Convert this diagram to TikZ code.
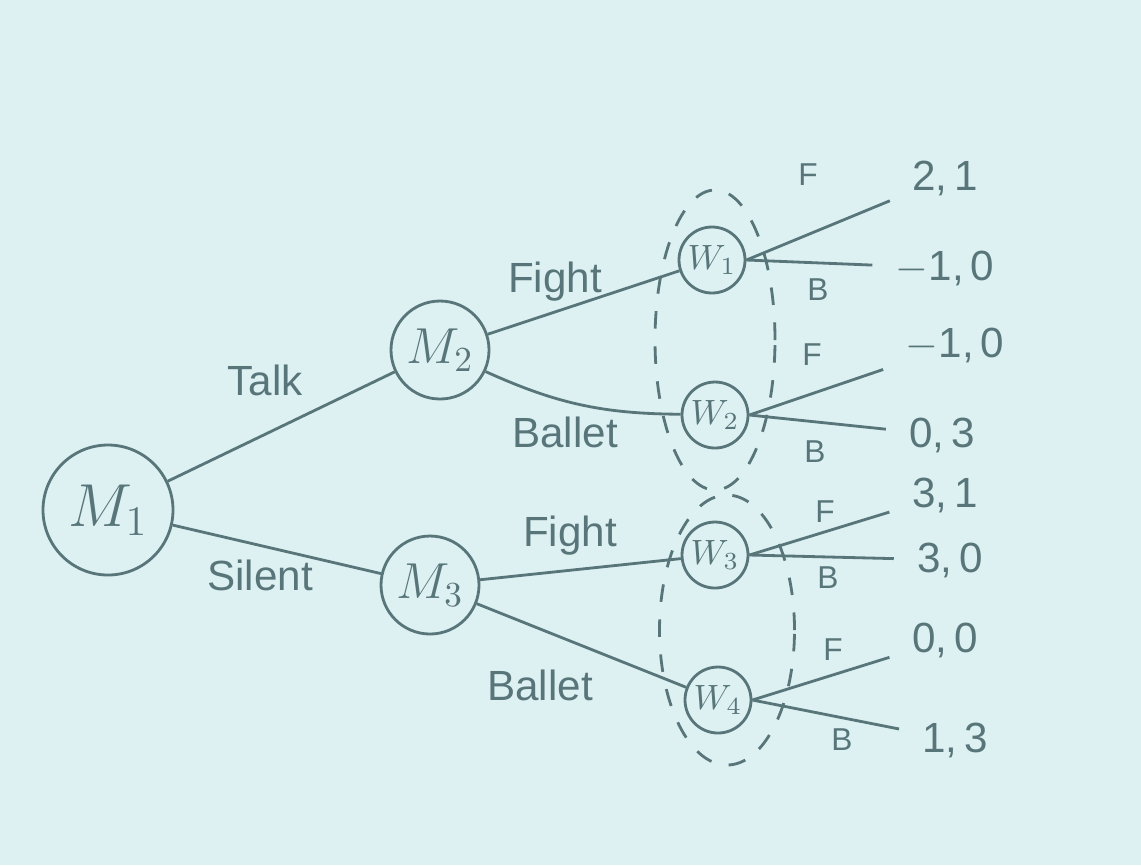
\documentclass[tikz,border=0pt]{standalone}
\usepackage{fontspec}
\setmainfont{Liberation Sans}
\usetikzlibrary{shapes.geometric}
\definecolor{paper}{RGB}{221,240,242}
\definecolor{ink}{RGB}{88,118,122}
\begin{document}
\begin{tikzpicture}[line width=0.8pt, draw=ink, text=ink,
  big/.style={draw=ink, circle, minimum size=13mm, inner sep=0pt, font=\LARGE},
  mid/.style={draw=ink, circle, minimum size=9.8mm, inner sep=0pt, font=\Large},
  sml/.style={draw=ink, circle, minimum size=6.6mm, inner sep=0pt, font=\normalsize},
  infoset/.style={draw=ink, dashed, ellipse, dash pattern=on 5pt off 5pt, inner sep=0pt},
  lab/.style={inner sep=1pt, font=\large},
  fb/.style={inner sep=1pt, font=\small},
  pay/.style={inner sep=2pt, font=\large},
  link/.style={draw=ink, line width=0.8pt},
  tail/.style={draw=ink, line width=0.8pt, shorten >=1.5mm}]
  \useasboundingbox[fill=paper] (0,0) rectangle (11.41,-8.65);
  % 1 px = 0.01 cm, y nach unten
  \node[big] (m1) at (1.08,-5.10) {$M_1$};
  \node[mid] (m2) at (4.40,-3.50) {$M_2$};
  \node[mid] (m3) at (4.30,-5.85) {$M_3$};
  \node[sml] (w1) at (7.12,-2.60) {$W_1$};
  \node[sml] (w2) at (7.15,-4.15) {$W_2$};
  \node[sml] (w3) at (7.15,-5.55) {$W_3$};
  \node[sml] (w4) at (7.18,-7.00) {$W_4$};
  % Informationsmengen
  \node[infoset, minimum width=12mm, minimum height=30mm] (set1) at (7.15,-3.40) {};
  \node[infoset, minimum width=13.5mm, minimum height=27mm] (set2) at (7.27,-6.30) {};
  % Auszahlungen
  \node[pay] (u1) at (9.45,-1.78) {2,\,1};
  \node[pay] (u2) at (9.45,-2.68) {$-$1,\,0};
  \node[pay] (u3) at (9.55,-3.45) {$-$1,\,0};
  \node[pay] (u4) at (9.42,-4.35) {0,\,3};
  \node[pay] (u5) at (9.45,-4.95) {3,\,1};
  \node[pay] (u6) at (9.50,-5.60) {3,\,0};
  \node[pay] (u7) at (9.45,-6.40) {0,\,0};
  \node[pay] (u8) at (9.55,-7.40) {1,\,3};
  % Kanten
  \draw[link] (m1) -- (m2);
  \draw[link] (m1) -- (m3);
  \draw[link] (m2) -- (w1);
  \draw[link] (m2) to[bend right=12] (w2);
  \draw[link] (m3) -- (w3);
  \draw[link] (m3) -- (w4);
  \draw[tail] (w1.east) -- (u1); \draw[tail] (w1.east) -- (u2);
  \draw[tail] (w2.east) -- (u3); \draw[tail] (w2.east) -- (u4);
  \draw[tail] (w3.east) -- (u5); \draw[tail] (w3.east) -- (u6);
  \draw[tail] (w4.east) -- (u7); \draw[tail] (w4.east) -- (u8);
  % Beschriftungen
  \node[lab] (talk) at (2.65,-3.80) {Talk};
  \node[lab] (silent) at (2.60,-5.75) {Silent};
  \node[lab] (fight1) at (5.55,-2.82) {Fight};
  \node[lab] (ballet1) at (5.65,-4.32) {Ballet};
  \node[lab] (fight2) at (5.70,-5.36) {Fight};
  \node[lab] (ballet2) at (5.40,-6.85) {Ballet};
  \node[fb] (f1) at (8.08,-1.75) {F};
  \node[fb] (b1) at (8.18,-2.90) {B};
  \node[fb] (f2) at (8.12,-3.55) {F};
  \node[fb] (b2) at (8.15,-4.52) {B};
  \node[fb] (f3) at (8.25,-5.12) {F};
  \node[fb] (b3) at (8.28,-5.78) {B};
  \node[fb] (f4) at (8.33,-6.50) {F};
  \node[fb] (b4) at (8.42,-7.40) {B};
\end{tikzpicture}
\end{document}
